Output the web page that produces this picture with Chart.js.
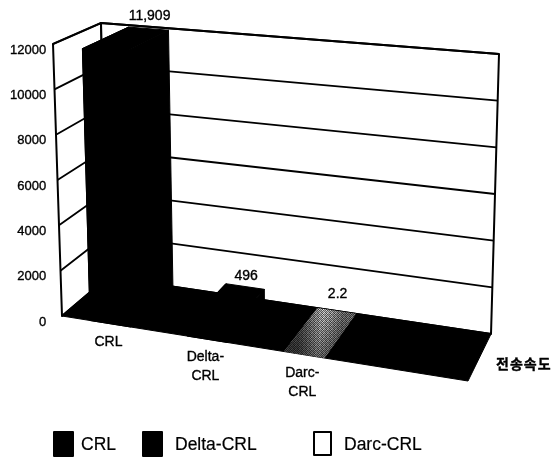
<!DOCTYPE html>
<html>
<head>
<meta charset="utf-8">
<script src="https://cdn.jsdelivr.net/npm/chart.js@4"></script>
<style>
    html, body { margin: 0; padding: 0; background: #fff; }
    canvas { display: block; }
</style>
</head>
<body>
<canvas id="chart" width="557" height="457"></canvas>
<script>
// values
const categories = ['CRL', 'Delta-CRL', 'Darc-CRL', ''];
const categoryLines = [['CRL'], ['Delta-', 'CRL'], ['Darc-', 'CRL'], []];
const crlValues = [11909, null, null, null];
const deltaValues = [null, 496, null, null];
const darcValues = [null, null, 2.2, null];
const valueLabels = ['11,909', '496', '2.2'];
const yTicks = [0, 2000, 4000, 6000, 8000, 10000, 12000];
const axisTitle = '전송속도';

// corners of the 3D box on the page
const FRONT_BOTTOM_LEFT = [62, 316], FRONT_BOTTOM_RIGHT = [468, 381];
const BACK_BOTTOM_LEFT = [108, 277], BACK_BOTTOM_RIGHT = [491, 334];
const FRONT_TOP_LEFT = [53, 44], FRONT_TOP_RIGHT = [477, 81];
const BACK_TOP_LEFT = [101, 23], BACK_TOP_RIGHT = [499, 54];
const FLOOR_USED = 0.955; // four slots do not quite fill the floor
const FONT = '"Liberation Sans", Arial, sans-serif';

const mix = (a, b, t) => [a[0] + (b[0] - a[0]) * t, a[1] + (b[1] - a[1]) * t];

function project(u, v, w) {
    const bottom = mix(mix(FRONT_BOTTOM_LEFT, FRONT_BOTTOM_RIGHT, u), mix(BACK_BOTTOM_LEFT, BACK_BOTTOM_RIGHT, u), v);
    const top = mix(mix(FRONT_TOP_LEFT, FRONT_TOP_RIGHT, u), mix(BACK_TOP_LEFT, BACK_TOP_RIGHT, u), v);
    return mix(bottom, top, w);
}

function poly(ctx, pts, fill, stroke, lw) {
    ctx.beginPath();
    pts.forEach((p, i) => i ? ctx.lineTo(p[0], p[1]) : ctx.moveTo(p[0], p[1]));
    ctx.closePath();
    if (fill) { ctx.fillStyle = fill; ctx.fill(); }
    if (stroke) { ctx.strokeStyle = stroke; ctx.lineWidth = lw; ctx.lineJoin = 'round'; ctx.stroke(); }
}

// the scan makes all the text a little heavier
function label(ctx, text, x, y, weight = 0.35) {
    ctx.fillStyle = '#000';
    ctx.strokeStyle = '#000';
    ctx.lineWidth = weight;
    ctx.fillText(text, x, y);
    ctx.strokeText(text, x, y);
}

function makeGrain(ctx) {
    const tile = document.createElement('canvas');
    tile.width = 4;
    tile.height = 4;
    const t = tile.getContext('2d');
    const shades = ['#eee', '#555', '#ccc', '#777', '#888', '#ddd', '#444', '#fff', '#bbb', '#666', '#f4f4f4', '#555', '#777', '#ccc', '#666', '#ddd'];
    shades.forEach((c, i) => { t.fillStyle = c; t.fillRect(i % 4, Math.floor(i / 4), 1, 1); });
    return ctx.createPattern(tile, 'repeat');
}

function shadeGrain(ctx, pts, p, u0, u1, w) {
    const um = (u0 + u1) / 2;
    const back = p(um, 1, w), front = p(um, 0, w);
    const depth = ctx.createLinearGradient(back[0], back[1], front[0], front[1]);
    depth.addColorStop(0, 'rgba(0,0,0,0)');
    depth.addColorStop(1, 'rgba(0,0,0,0.5)');
    poly(ctx, pts, depth);
    const l = p(u0, 0.5, w), r = p(u1, 0.5, w);
    const across = ctx.createLinearGradient(l[0], l[1], r[0], r[1]);
    across.addColorStop(0, 'rgba(0,0,0,0.45)');
    across.addColorStop(0.5, 'rgba(0,0,0,0)');
    across.addColorStop(1, 'rgba(0,0,0,0.45)');
    poly(ctx, pts, across);
}

const box3d = {
    id: 'box3d',
    beforeDatasetsDraw(chart) {
        const ctx = chart.ctx;
        const yScale = chart.scales.y;
        const wOf = value => (yScale.bottom - yScale.getPixelForValue(value)) / (yScale.bottom - yScale.top);

        // walls and grid
        poly(ctx, [FRONT_TOP_LEFT, BACK_TOP_LEFT, BACK_BOTTOM_LEFT, FRONT_BOTTOM_LEFT], '#fff', '#000', 2);
        poly(ctx, [BACK_TOP_LEFT, BACK_TOP_RIGHT, BACK_BOTTOM_RIGHT, BACK_BOTTOM_LEFT], '#fff', '#000', 2);
        yTicks.forEach(value => {
            const w = wOf(value);
            const a = project(0, 0, w), b = project(0, 1, w), c = project(1, 1, w);
            ctx.beginPath();
            ctx.moveTo(a[0], a[1]);
            ctx.lineTo(b[0], b[1]);
            ctx.lineTo(c[0], c[1]);
            ctx.strokeStyle = '#000';
            ctx.lineWidth = 1.8;
            ctx.stroke();
        });
        poly(ctx, [FRONT_BOTTOM_LEFT, FRONT_BOTTOM_RIGHT, BACK_BOTTOM_RIGHT, BACK_BOTTOM_LEFT], '#000', '#000', 1);
    },
    afterDatasetsDraw(chart) {
        const ctx = chart.ctx;
        const area = chart.chartArea;
        const uOf = px => FLOOR_USED * (px - area.left) / (area.right - area.left);
        const wOf = py => (area.bottom - py) / (area.bottom - area.top);

        chart.data.datasets.forEach((ds, d) => {
            chart.getDatasetMeta(d).data.forEach((bar, i) => {
                if (ds.data[i] === null) return;
                const u0 = uOf(bar.x - bar.width / 2), u1 = uOf(bar.x + bar.width / 2);
                const w = wOf(bar.y);
                const grain = ds.faceFill === 'grain';
                const fill = grain ? makeGrain(ctx) : ds.faceFill;
                const seam = grain ? null : ds.faceFill;
                const p = (u, v, h) => project(u, v, h);
                const topFace = [p(u0, 0, w), p(u1, 0, w), p(u1, 1, w), p(u0, 1, w)];
                poly(ctx, [p(u0, 0, 0), p(u0, 1, 0), p(u0, 1, w), p(u0, 0, w)], fill, seam, 1);
                poly(ctx, [p(u1, 0, 0), p(u1, 1, 0), p(u1, 1, w), p(u1, 0, w)], fill, seam, 1);
                poly(ctx, [p(u0, 0, 0), p(u1, 0, 0), p(u1, 0, w), p(u0, 0, w)], fill, seam, 1);
                poly(ctx, topFace, fill, seam, 1);
                if (grain) shadeGrain(ctx, topFace, p, u0, u1, w);

                // value over the back edge of the bar
                const top = p((u0 + u1) / 2, 1, w);
                const lift = [13, 10, 17][d];
                ctx.font = '14px ' + FONT;
                ctx.textAlign = 'center';
                ctx.textBaseline = 'middle';
                label(ctx, valueLabels[d], top[0] + 1, top[1] - lift);
            });
        });

        // category labels under the front edge
        ctx.font = '14px ' + FONT;
        ctx.textAlign = 'center';
        ctx.textBaseline = 'middle';
        categoryLines.forEach((lines, i) => {
            const u = uOf(chart.scales.x.getPixelForValue(i));
            const base = project(u, 0, 0);
            lines.forEach((line, n) => label(ctx, line, base[0] - 2, base[1] + 18 + n * 19));
        });

        // axis name at the right
        ctx.font = 'bold 14px "Noto Sans CJK KR", sans-serif';
        ctx.textAlign = 'left';
        ctx.letterSpacing = '1px';
        label(ctx, axisTitle, 496, 364, 0);
        ctx.letterSpacing = '0px';

        // legend
        const boxes = [[54, 432, 19, 24], [143, 432, 19, 24], [314, 432, 17, 23]];
        const textX = [81, 175, 344];
        ctx.font = '17.5px ' + FONT;
        chart.data.datasets.forEach((ds, d) => {
            const b = boxes[d];
            ctx.fillStyle = ds.swatch;
            ctx.fillRect(b[0], b[1], b[2], b[3]);
            ctx.strokeStyle = '#000';
            ctx.lineWidth = 2;
            ctx.strokeRect(b[0], b[1], b[2], b[3]);
            label(ctx, ds.label, textX[d], 445, 0.2);
        });
    }
};

new Chart(document.getElementById('chart'), {
    type: 'bar',
    data: {
        labels: categories,
        datasets: [
            { label: 'CRL', data: crlValues, backgroundColor: 'transparent', faceFill: '#000', swatch: '#000' },
            { label: 'Delta-CRL', data: deltaValues, backgroundColor: 'transparent', faceFill: '#000', swatch: '#000' },
            { label: 'Darc-CRL', data: darcValues, backgroundColor: 'transparent', faceFill: 'grain', swatch: '#fff' }
        ]
    },
    options: {
        responsive: false,
        animation: false,
        layout: { padding: { top: 50, bottom: 135, left: 7, right: 70 } },
        plugins: { legend: { display: false }, tooltip: { enabled: false } },
        datasets: { bar: { barPercentage: 0.42, categoryPercentage: 1 } },
        scales: {
            x: { display: false, stacked: true },
            y: {
                stacked: true,
                min: 0,
                max: 12000,
                afterBuildTicks: scale => { scale.ticks = yTicks.map(value => ({ value })); },
                grid: { display: false, drawTicks: false },
                border: { display: false },
                ticks: {
                    padding: 3,
                    color: '#000',
                    textStrokeColor: '#000',
                    textStrokeWidth: 0.35,
                    font: { family: '"Liberation Sans", Arial, sans-serif', size: 13 },
                    callback: value => String(value)
                }
            }
        }
    },
    plugins: [box3d]
});
</script>
</body>
</html>
